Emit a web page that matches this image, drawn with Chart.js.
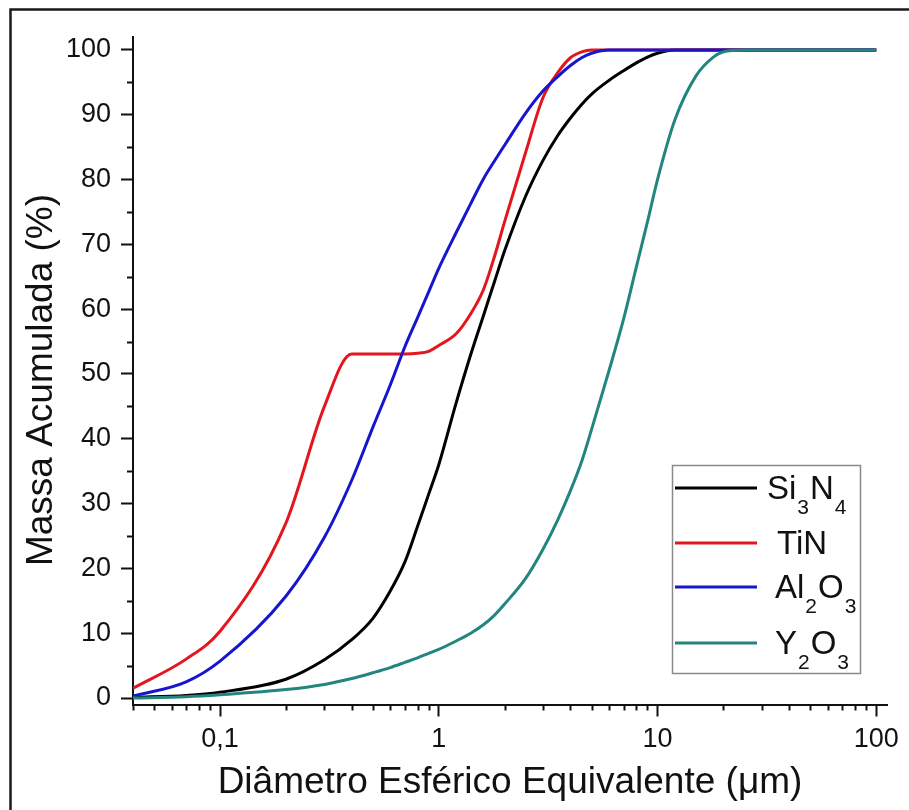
<!DOCTYPE html>
<html>
<head>
<meta charset="utf-8">
<script src="https://cdn.jsdelivr.net/npm/chart.js@4.4.1/dist/chart.umd.min.js"></script>
<style>
  html, body { margin: 0; padding: 0; background: #fff; }
  #wrap { width: 909px; height: 810px; position: relative; }
</style>
</head>
<body>
<div id="wrap"><canvas id="granChart" width="909" height="810"></canvas></div>
<script>
// Particle size distribution (cumulative mass %)
const diameters = [0.04, 0.07, 0.1, 0.2, 0.3, 0.4, 0.5, 0.6, 0.7, 0.8, 0.9, 1,
    1.2, 1.4, 1.6, 1.8, 2, 2.5, 3, 3.5, 4, 4.5, 5, 6, 7, 8, 9, 10,
    12, 15, 18, 20, 25, 30, 40, 50, 70, 100];

const si3n4 = [0.1, 0.4, 0.9, 2.9, 5.9, 9.0, 12.3, 16.5, 21.0, 26.5, 31.5, 36.0,
    45.5, 53.0, 59.0, 64.3, 69.0, 77.5, 83.0, 86.8, 89.5, 91.6, 93.2, 95.3, 96.8, 98.0, 98.9, 99.5,
    100, 100, 100, 100, 100, 100, 100, 100, 100, 100];

const tin = [1.5, 6.0, 10.3, 27.0, 45.0, 53.1, 53.1, 53.1, 53.1, 53.2, 53.5, 54.4,
    56.2, 59.3, 63.0, 68.2, 73.5, 84.3, 92.7, 96.5, 98.8, 99.7, 100, 100, 100, 100, 100, 100,
    100, 100, 100, 100, 100, 100, 100, 100, 100, 100];

const al2o3 = [0.3, 2.5, 5.7, 15.7, 24.8, 33.6, 41.8, 48.3, 54.2, 58.7, 62.7, 66.3,
    71.8, 76.3, 80.1, 82.9, 85.3, 90.3, 93.7, 95.9, 97.6, 98.8, 99.5, 100, 100, 100, 100, 100,
    100, 100, 100, 100, 100, 100, 100, 100, 100, 100];

const y2o3 = [0, 0.2, 0.5, 1.3, 2.1, 3.0, 3.9, 4.7, 5.5, 6.2, 6.9, 7.5,
    8.8, 10.0, 11.3, 12.8, 14.5, 18.5, 23.0, 27.5, 32.0, 36.5, 41.5, 50.5, 58.5, 66.5, 73.5, 80.0,
    89.2, 96.0, 98.9, 99.7, 100, 100, 100, 100, 100, 100];

// "_" marks a subscript digit
const seriesNames = ['Si_3N_4', 'TiN', 'Al_2O_3', 'Y_2O_3'];
const seriesColors = ['#000000', '#e3161e', '#1616cf', '#22857e'];

const xTickValues = [0.1, 1, 10, 100];
const xTickLabels = ['0,1', '1', '10', '100'];
const yTickValues = [0, 10, 20, 30, 40, 50, 60, 70, 80, 90, 100];

const FONT = 'Arial, "Liberation Sans", sans-serif';

function toPoints(values) {
    return diameters.map((d, i) => ({ x: d, y: values[i] }));
}

// minor ticks, frame, y title and legend with subscripts
const decorations = {
    id: 'decorations',
    beforeDraw(chart) {
        const { ctx } = chart;
        ctx.save();
        ctx.fillStyle = '#fff';
        ctx.fillRect(0, 0, chart.width, chart.height);
        ctx.strokeStyle = '#1a1a1a';
        ctx.lineWidth = 2.5;
        ctx.beginPath();
        ctx.moveTo(10.5, chart.height);
        ctx.lineTo(10.5, 9.5);
        ctx.lineTo(chart.width, 9.5);
        ctx.stroke();
        ctx.restore();
    },
    afterDraw(chart) {
        const { ctx, chartArea, scales: { x, y } } = chart;
        ctx.save();
        ctx.strokeStyle = '#111';
        ctx.lineWidth = 2;

        // x minor ticks
        ctx.beginPath();
        [0.01, 0.1, 1, 10].forEach(dec => {
            for (let k = 2; k <= 9; k++) {
                const v = dec * k;
                if (v < x.min || v > x.max) continue;
                const px = Math.round(x.getPixelForValue(v)) + 0.5;
                ctx.moveTo(px, chartArea.bottom);
                ctx.lineTo(px, chartArea.bottom + 6);
            }
        });
        // y minor ticks
        for (let v = 5; v < 100; v += 10) {
            const py = Math.round(y.getPixelForValue(v)) + 0.5;
            ctx.moveTo(chartArea.left, py);
            ctx.lineTo(chartArea.left - 6, py);
        }
        ctx.stroke();

        // y axis title
        ctx.fillStyle = '#111';
        ctx.font = '37px ' + FONT;
        ctx.textAlign = 'center';
        ctx.textBaseline = 'middle';
        ctx.translate(42, 380);
        ctx.rotate(-Math.PI / 2);
        ctx.fillText('Massa Acumulada (%)', 0, 0);
        ctx.setTransform(1, 0, 0, 1, 0, 0);

        // legend
        const box = { left: 672, top: 465, width: 188, height: 208 };
        const rowY = [488, 543, 587, 643];
        const textX = [767, 777, 775, 775];
        ctx.fillStyle = '#fff';
        ctx.fillRect(box.left, box.top, box.width, box.height);
        ctx.strokeStyle = '#8a8a8a';
        ctx.lineWidth = 1.5;
        ctx.strokeRect(box.left + 0.5, box.top + 0.5, box.width, box.height);

        seriesNames.forEach((name, i) => {
            ctx.strokeStyle = seriesColors[i];
            ctx.lineWidth = 3;
            ctx.beginPath();
            ctx.moveTo(675, rowY[i]);
            ctx.lineTo(757, rowY[i]);
            ctx.stroke();

            let cx = textX[i];
            const base = rowY[i] + 11;
            ctx.fillStyle = '#111';
            ctx.textAlign = 'left';
            ctx.textBaseline = 'alphabetic';
            const parts = name.split(/(_\d)/).filter(p => p);
            parts.forEach(p => {
                if (p.startsWith('_')) {
                    ctx.font = '21px ' + FONT;
                    ctx.fillText(p.slice(1), cx + 1, base + 15);
                    cx += ctx.measureText(p.slice(1)).width + 2;
                } else {
                    ctx.font = '33px ' + FONT;
                    ctx.fillText(p, cx, base);
                    cx += ctx.measureText(p).width;
                }
            });
        });
        ctx.restore();
    }
};

const datasets = [si3n4, tin, al2o3, y2o3].map((values, i) => ({
    label: seriesNames[i],
    data: toPoints(values),
    borderColor: seriesColors[i],
    backgroundColor: seriesColors[i],
    borderWidth: 3,
    pointRadius: 0,
    fill: false,
    cubicInterpolationMode: 'monotone',
    order: 3 - i
}));

const ctx = document.getElementById('granChart').getContext('2d');
const myChart = new Chart(ctx, {
    type: 'line',
    data: { datasets },
    plugins: [decorations],
    options: {
        responsive: false,
        animation: false,
        events: [],
        layout: { padding: { left: 10, right: 22, top: 37, bottom: 0 } },
        plugins: {
            legend: { display: false },
            tooltip: { enabled: false }
        },
        scales: {
            x: {
                type: 'logarithmic',
                min: 0.04,
                max: 112,
                afterBuildTicks: scale => {
                    scale.ticks = xTickValues.map(v => ({ value: v, major: true }));
                },
                afterFit: scale => { scale.height = 105.5; },
                ticks: {
                    color: '#111',
                    font: { family: FONT, size: 27 },
                    padding: 7,
                    maxRotation: 0,
                    autoSkip: false,
                    callback: value => {
                        const idx = xTickValues.indexOf(value);
                        return idx >= 0 ? xTickLabels[idx] : '';
                    }
                },
                grid: {
                    drawOnChartArea: false,
                    drawTicks: true,
                    tickLength: 12,
                    tickColor: '#111',
                    tickWidth: 2
                },
                border: { display: true, color: '#111', width: 2 },
                title: {
                    display: true,
                    text: 'Diâmetro Esférico Equivalente (μm)',
                    color: '#111',
                    font: { family: FONT, size: 37 },
                    padding: { top: 0, bottom: 5 }
                }
            },
            y: {
                min: -1,
                max: 102,
                afterBuildTicks: scale => {
                    scale.ticks = yTickValues.map(v => ({ value: v }));
                },
                afterFit: scale => { scale.width = 123; },
                ticks: {
                    color: '#111',
                    font: { family: FONT, size: 27 },
                    padding: 10,
                    autoSkip: false
                },
                grid: {
                    drawOnChartArea: false,
                    drawTicks: true,
                    tickLength: 12,
                    tickColor: '#111',
                    tickWidth: 2
                },
                border: { display: true, color: '#111', width: 2 },
                title: { display: false }
            }
        }
    }
});
</script>
</body>
</html>
